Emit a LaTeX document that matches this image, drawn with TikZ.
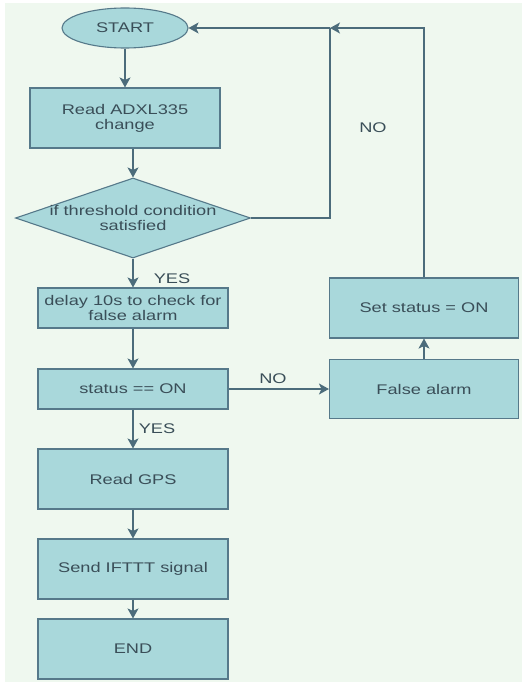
\documentclass[tikz,border=0pt]{standalone}
\usepackage{fontspec}
\setmainfont{Liberation Sans}[FakeStretch=1.3]
\usetikzlibrary{shapes.geometric,arrows.meta}
\definecolor{boxfill}{HTML}{A9D8DB}
\definecolor{boxline}{HTML}{56798A}
\definecolor{arrowcol}{HTML}{4C6C7B}
\definecolor{labeltext}{HTML}{3A4E58}
\definecolor{panel}{HTML}{EFF8EF}

\begin{document}
\begin{tikzpicture}[x=1pt,y=-1pt,
    every node/.style={font=\fontsize{14}{15}\selectfont,text=labeltext,align=center},
    block/.style={rectangle,draw=boxline,fill=boxfill,line width=1.1pt,
      minimum width=190pt,minimum height=60pt,inner sep=0pt},
    slim/.style={block,minimum height=40pt},
    term/.style={ellipse,draw=boxline,fill=boxfill,line width=1.1pt,
      minimum width=126pt,minimum height=40pt,inner sep=0pt},
    decision/.style={diamond,draw=boxline,fill=boxfill,line width=1.1pt,
      minimum width=235pt,minimum height=80pt,inner sep=0pt},
    link/.style={draw=arrowcol,line width=1.1pt},
    flow/.style={link,-{Stealth[length=10pt,width=11pt,inset=2.5pt]}}]
    \useasboundingbox (0,0) rectangle (522,682);
    \fill[panel] (5,3) rectangle (522,682);

    \node[term] (start) at (125,28) {START};
    \node[block] (read) at (125,118) {Read ADXL335\\change};
    \node[decision] (cond) at (133,218) {};
    \node (condtext) at (cond.center) {if threshold condition\\satisfied};
    \node[slim] (delay) at (133,308) {delay 10s to check for\\false alarm};
    \node[slim] (status) at (133,389) {status == ON};
    \node[block] (gps) at (133,479) {Read GPS};
    \node[block] (send) at (133,569) {Send IFTTT signal};
    \node[block] (stop) at (133,649) {END};
    \node[block,minimum width=189pt,minimum height=59pt] (false) at (424,389) {False alarm};
    \node[block,minimum width=189pt] (setst) at (424,308) {Set status = ON};

    \node (noloop) at (373,128) {NO};
    \node (yescond) at (172,279) {YES};
    \node (nostatus) at (273,379) {NO};
    \node (yesstatus) at (157,429) {YES};

    \coordinate (join) at (330,28);
    \draw[flow] (start) -- (read);
    \draw[flow] (read.south -| cond.north) -- (cond.north);
    \draw[flow] (cond) -- (delay);
    \draw[flow] (delay) -- (status);
    \draw[flow] (status) -- (gps);
    \draw[flow] (gps) -- (send);
    \draw[flow] (send) -- (stop);
    \draw[flow] (status) -- (false);
    \draw[flow] (false) -- (setst);
    \draw[link] (cond.east) -| (join);
    \draw[flow] (setst.north) |- (join);
    \draw[flow] (join) -- (start.east);
\end{tikzpicture}
\end{document}
